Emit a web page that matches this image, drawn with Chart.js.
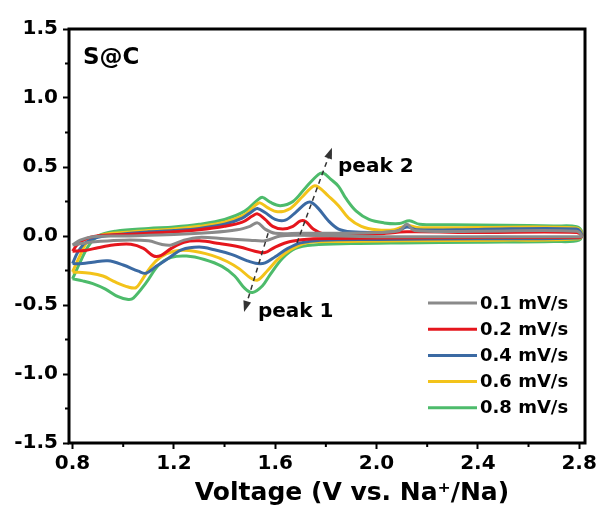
<!DOCTYPE html>
<html>
<head>
<meta charset="utf-8">
<script src="https://cdn.jsdelivr.net/npm/chart.js@4.4.1/dist/chart.umd.min.js"></script>
<style>
  html, body { margin: 0; padding: 0; background: #fff; }
</style>
</head>
<body>
<canvas id="cv" width="599" height="515"></canvas>
<script>
// scan rates and line colours
const rateLabels = ['0.1 mV/s', '0.2 mV/s', '0.4 mV/s', '0.6 mV/s', '0.8 mV/s'];
const rateColors = ['#8a8a8a', '#e5161d', '#3b6aa3', '#f3c31a', '#4dbb6b'];

// each loop: anodic sweep 0.8 -> 2.8 V, then cathodic sweep back to 0.8 V
const v01 = [0.80, 0.83, 0.88, 1.00, 1.20, 1.35, 1.45, 1.50, 1.53, 1.56, 1.60, 1.70, 1.85, 2.00, 2.09, 2.12, 2.15, 2.40, 2.79, 2.81,
             2.80, 2.40, 2.00, 1.70, 1.62, 1.56, 1.50, 1.40, 1.30, 1.24, 1.19, 1.15, 1.10, 1.00, 0.90, 0.85, 0.80];
const i01 = [-0.065, -0.03, -0.005, 0.0, 0.01, 0.025, 0.045, 0.07, 0.095, 0.05, 0.02, 0.02, 0.02, 0.025, 0.04, 0.085, 0.04, 0.035, 0.035, 0.0,
             -0.005, -0.005, -0.005, 0.005, 0.0, -0.035, -0.03, -0.02, -0.01, -0.03, -0.065, -0.06, -0.035, -0.03, -0.04, -0.05, -0.065];

const v02 = [0.80, 0.82, 0.86, 0.92, 1.00, 1.10, 1.20, 1.30, 1.40, 1.47, 1.51, 1.53, 1.56, 1.59, 1.63, 1.67, 1.70, 1.72, 1.75, 1.79, 1.85, 2.00, 2.12, 2.40, 2.79, 2.81,
             2.80, 2.40, 2.00, 1.75, 1.66, 1.60, 1.56, 1.52, 1.46, 1.38, 1.30, 1.24, 1.19, 1.15, 1.12, 1.08, 1.03, 0.96, 0.90, 0.85, 0.80];
const i02 = [-0.11, -0.06, -0.015, 0.005, 0.01, 0.02, 0.03, 0.045, 0.07, 0.10, 0.145, 0.16, 0.12, 0.07, 0.05, 0.07, 0.11, 0.105, 0.05, 0.015, 0.01, 0.015, 0.03, 0.025, 0.025, 0.0,
             -0.01, -0.01, -0.015, -0.02, -0.04, -0.08, -0.12, -0.11, -0.08, -0.055, -0.035, -0.045, -0.09, -0.14, -0.145, -0.09, -0.06, -0.065, -0.085, -0.105, -0.11];

const v04 = [0.80, 0.82, 0.85, 0.90, 1.00, 1.10, 1.20, 1.30, 1.40, 1.47, 1.51, 1.53, 1.56, 1.60, 1.64, 1.68, 1.72, 1.74, 1.77, 1.81, 1.85, 1.90, 2.00, 2.08, 2.12, 2.16, 2.40, 2.79, 2.81,
             2.80, 2.40, 2.00, 1.78, 1.70, 1.65, 1.60, 1.56, 1.53, 1.49, 1.43, 1.36, 1.30, 1.23, 1.18, 1.13, 1.09, 1.06, 1.00, 0.94, 0.88, 0.84, 0.80];
const i04 = [-0.20, -0.12, -0.05, -0.01, 0.015, 0.03, 0.04, 0.055, 0.085, 0.13, 0.18, 0.20, 0.17, 0.12, 0.115, 0.17, 0.235, 0.245, 0.20, 0.11, 0.05, 0.03, 0.025, 0.035, 0.065, 0.045, 0.048, 0.05, 0.01,
             -0.015, -0.02, -0.025, -0.03, -0.05, -0.09, -0.15, -0.195, -0.20, -0.18, -0.135, -0.10, -0.08, -0.10, -0.16, -0.22, -0.27, -0.255, -0.21, -0.18, -0.19, -0.20, -0.20];

const v06 = [0.80, 0.83, 0.86, 0.92, 1.00, 1.10, 1.20, 1.30, 1.40, 1.48, 1.52, 1.54, 1.57, 1.61, 1.66, 1.71, 1.75, 1.77, 1.81, 1.85, 1.89, 1.94, 2.00, 2.07, 2.12, 2.17, 2.40, 2.79, 2.81,
             2.80, 2.50, 2.10, 1.85, 1.72, 1.66, 1.61, 1.57, 1.53, 1.50, 1.46, 1.41, 1.35, 1.26, 1.20, 1.15, 1.11, 1.07, 1.05, 1.02, 0.97, 0.92, 0.87, 0.80];
const i06 = [-0.26, -0.14, -0.04, 0.01, 0.025, 0.04, 0.05, 0.07, 0.10, 0.155, 0.22, 0.24, 0.205, 0.175, 0.20, 0.29, 0.36, 0.355, 0.29, 0.22, 0.13, 0.07, 0.045, 0.045, 0.075, 0.06, 0.062, 0.058, 0.02,
             -0.02, -0.03, -0.035, -0.04, -0.05, -0.10, -0.17, -0.25, -0.32, -0.30, -0.24, -0.185, -0.14, -0.105, -0.11, -0.15, -0.22, -0.33, -0.375, -0.37, -0.335, -0.29, -0.27, -0.26];

const v08 = [0.80, 0.83, 0.86, 0.90, 0.97, 1.10, 1.20, 1.30, 1.40, 1.48, 1.53, 1.55, 1.58, 1.62, 1.67, 1.72, 1.77, 1.79, 1.82, 1.85, 1.88, 1.92, 1.97, 2.03, 2.09, 2.13, 2.17, 2.30, 2.50, 2.70, 2.79, 2.81,
             2.80, 2.70, 2.40, 2.10, 1.90, 1.75, 1.68, 1.63, 1.58, 1.55, 1.51, 1.48, 1.44, 1.39, 1.32, 1.25, 1.19, 1.14, 1.09, 1.04, 1.02, 0.98, 0.93, 0.88, 0.84, 0.80];
const i08 = [-0.31, -0.19, -0.08, 0.0, 0.035, 0.055, 0.065, 0.085, 0.12, 0.18, 0.26, 0.28, 0.245, 0.22, 0.25, 0.35, 0.445, 0.455, 0.41, 0.36, 0.27, 0.18, 0.12, 0.095, 0.09, 0.11, 0.085, 0.082, 0.078, 0.072, 0.068, 0.03,
             -0.03, -0.04, -0.045, -0.05, -0.055, -0.065, -0.09, -0.16, -0.28, -0.36, -0.41, -0.38, -0.29, -0.22, -0.17, -0.145, -0.155, -0.21, -0.34, -0.45, -0.46, -0.44, -0.385, -0.345, -0.325, -0.31];

const voltages = [v01, v02, v04, v06, v08];
const currents = [i01, i02, i04, i06, i08];

// axis ticks
const xTicks = [0.8, 1.2, 1.6, 2.0, 2.4, 2.8];
const xMinor = [1.0, 1.4, 1.8, 2.2, 2.6];
const yTicks = [-1.5, -1.0, -0.5, 0.0, 0.5, 1.0, 1.5];
const yMinor = [-1.25, -0.75, -0.25, 0.25, 0.75, 1.25];

// annotation arrows [fromV, fromI, toV, toI]
const peak1Arrow = [1.572, 0.02, 1.477, -0.55];
const peak2Arrow = [1.686, -0.05, 1.824, 0.64];

const FONT = "'DejaVu Sans', sans-serif";
Chart.defaults.font.family = FONT;
Chart.defaults.color = '#000';

const datasets = rateLabels.map((label, s) => ({
  label,
  data: voltages[s].map((v, k) => ({ x: v, y: currents[s][k] })),
  borderColor: rateColors[s],
  backgroundColor: rateColors[s],
  borderWidth: 3,
  showLine: true,
  pointRadius: 0,
  tension: 0.35,
  fill: false,
}));

function drawArrow(ctx, x, y, a) {
  const x0 = x.getPixelForValue(a[0]), y0 = y.getPixelForValue(a[1]);
  const x1 = x.getPixelForValue(a[2]), y1 = y.getPixelForValue(a[3]);
  const ang = Math.atan2(y1 - y0, x1 - x0);
  const head = 11;
  ctx.save();
  ctx.strokeStyle = '#333';
  ctx.fillStyle = '#333';
  ctx.lineWidth = 1.5;
  ctx.setLineDash([5, 4]);
  ctx.beginPath();
  ctx.moveTo(x0, y0);
  ctx.lineTo(x1 - head * Math.cos(ang), y1 - head * Math.sin(ang));
  ctx.stroke();
  ctx.setLineDash([]);
  ctx.beginPath();
  ctx.moveTo(x1, y1);
  ctx.lineTo(x1 - head * Math.cos(ang) + 4 * Math.sin(ang), y1 - head * Math.sin(ang) - 4 * Math.cos(ang));
  ctx.lineTo(x1 - head * Math.cos(ang) - 4 * Math.sin(ang), y1 - head * Math.sin(ang) + 4 * Math.cos(ang));
  ctx.closePath();
  ctx.fill();
  ctx.restore();
}

const extras = {
  id: 'extras',
  afterDraw(chart) {
    const { ctx, chartArea: a, scales: { x, y } } = chart;
    ctx.save();
    // frame
    ctx.strokeStyle = '#000';
    ctx.lineWidth = 3;
    ctx.strokeRect(a.left, a.top, a.right - a.left, a.bottom - a.top);
    // minor ticks
    ctx.lineWidth = 2;
    ctx.beginPath();
    xMinor.forEach(v => {
      const px = x.getPixelForValue(v);
      ctx.moveTo(px, a.bottom);
      ctx.lineTo(px, a.bottom + 4);
    });
    yMinor.forEach(v => {
      const py = y.getPixelForValue(v);
      ctx.moveTo(a.left, py);
      ctx.lineTo(a.left - 4, py);
    });
    ctx.stroke();

    // sample name
    ctx.fillStyle = '#000';
    ctx.font = 'bold 23px ' + FONT;
    ctx.textBaseline = 'middle';
    ctx.textAlign = 'left';
    ctx.fillText('S@C', a.left + 14, a.top + 29);

    // x axis title (sits a little right of centre in the original)
    ctx.font = 'bold 25px ' + FONT;
    ctx.textAlign = 'center';
    ctx.fillText('Voltage (V vs. Na\u207A/Na)', (a.left + a.right) / 2 + 25, a.bottom + 50);
    ctx.textAlign = 'left';

    // peak arrows + labels
    drawArrow(ctx, x, y, peak1Arrow);
    drawArrow(ctx, x, y, peak2Arrow);
    ctx.fillStyle = '#000';
    ctx.font = 'bold 20px ' + FONT;
    ctx.fillText('peak 1', x.getPixelForValue(1.532), y.getPixelForValue(-0.55));
    ctx.fillText('peak 2', x.getPixelForValue(1.848), y.getPixelForValue(0.5));

    // legend
    ctx.font = 'bold 18px ' + FONT;
    chart.data.datasets.forEach((ds, k) => {
      const ly = a.bottom - 140 + k * 26.2;
      ctx.strokeStyle = ds.borderColor;
      ctx.lineWidth = 3;
      ctx.beginPath();
      ctx.moveTo(a.right - 157, ly);
      ctx.lineTo(a.right - 108, ly);
      ctx.stroke();
      ctx.fillStyle = '#000';
      ctx.fillText(ds.label, a.right - 105, ly + 1);
    });
    ctx.restore();
  }
};

new Chart(document.getElementById('cv'), {
  type: 'scatter',
  data: { datasets },
  options: {
    responsive: false,
    animation: false,
    layout: { padding: { top: 29, right: 14, left: 0, bottom: 0 } },
    plugins: { legend: { display: false }, tooltip: { enabled: false } },
    scales: {
      x: {
        type: 'linear',
        min: 0.786,
        max: 2.823,
        afterBuildTicks: s => { s.ticks = xTicks.map(v => ({ value: v })); },
        afterFit: s => { s.height = 72; s.paddingLeft = 0; s.paddingRight = 0; },
        ticks: {
          font: { size: 20, weight: 'bold' },
          color: '#000',
          padding: 3,
          maxRotation: 0,
          callback: v => v.toFixed(1),
        },
        grid: { drawOnChartArea: false, drawTicks: true, tickLength: 6, tickWidth: 2, tickColor: '#000' },
        border: { display: false },
      },
      y: {
        type: 'linear',
        min: -1.5,
        max: 1.5,
        afterBuildTicks: s => { s.ticks = yTicks.map(v => ({ value: v })); },
        afterFit: s => { s.width = 69; s.paddingTop = 0; s.paddingBottom = 0; },
        ticks: {
          font: { size: 20, weight: 'bold' },
          color: '#000',
          padding: 5,
          callback: v => v.toFixed(1),
        },
        grid: { drawOnChartArea: false, drawTicks: true, tickLength: 6, tickWidth: 2, tickColor: '#000' },
        border: { display: false },
      },
    },
  },
  plugins: [extras],
});
</script>
</body>
</html>
